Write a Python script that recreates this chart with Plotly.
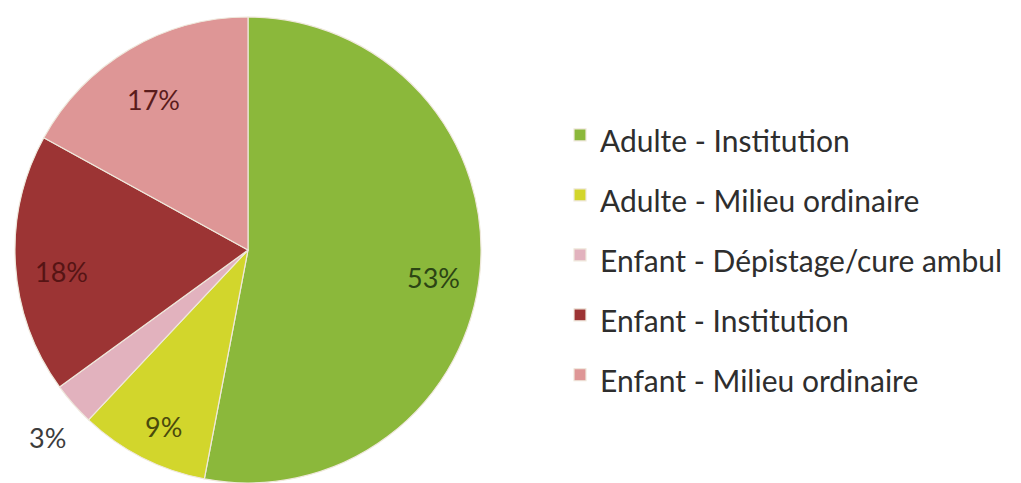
import math
import plotly.graph_objects as go

# Répartition par catégorie de prise en charge
categories = [
    "Adulte - Institution",
    "Adulte - Milieu ordinaire",
    "Enfant - Dépistage/cure ambul",
    "Enfant - Institution",
    "Enfant - Milieu ordinaire",
]
values = [53, 9, 3, 18, 17]

slice_colors = ["#8bb83b", "#d2d62c", "#e2b2be", "#9c3434", "#de9696"]
text_colors = ["#2c4414", "#4a4a0c", "#3c3c3c", "#561414", "#5a1c1c"]
label_placement = ["inside", "inside", "outside", "inside", "inside"]

W, H = 1021, 483
# pie box in pixels (left, top, diameter)
PIE_LEFT, PIE_TOP, PIE_D = 15, 17, 466
label_radius = {"inside": 0.80, "outside": 1.15}
LABEL_DROP = 10  # px, labels sit slightly below the mid-angle point

# Legend entries keep a taller row spacing than their visible text size
legend_labels = [f"<span style='font-size:30px'>{c}</span>" for c in categories]

fig = go.Figure(
    go.Pie(
        labels=legend_labels,
        values=values,
        sort=False,
        direction="clockwise",
        rotation=0,
        marker=dict(colors=slice_colors, line=dict(color="#efe8dc", width=1.2)),
        textinfo="none",
        domain=dict(
            x=[PIE_LEFT / W, (PIE_LEFT + PIE_D) / W],
            y=[1 - (PIE_TOP + PIE_D) / H, 1 - PIE_TOP / H],
        ),
        hoverinfo="label+percent",
    )
)

# Percentage labels placed along each slice's mid-angle
cx = PIE_LEFT + PIE_D / 2
cy = PIE_TOP + PIE_D / 2
R = PIE_D / 2
total = sum(values)
cum = 0
for v, tc, place in zip(values, text_colors, label_placement):
    theta = (cum + v / 2) / total * 2 * math.pi
    cum += v
    r = label_radius[place] * R
    px = cx + r * math.sin(theta)
    py = cy - r * math.cos(theta)
    fig.add_annotation(
        x=px / W,
        y=1 - py / H,
        xref="paper",
        yref="paper",
        yshift=-LABEL_DROP,
        text=f"{v / total:.0%}",
        showarrow=False,
        font=dict(family="Lato", size=27, color=tc),
        xanchor="center",
        yanchor="middle",
    )

fig.update_layout(
    width=W,
    height=H,
    margin=dict(l=0, r=0, t=0, b=0),
    paper_bgcolor="white",
    plot_bgcolor="white",
    font=dict(family="Lato", color="#2e2e2e"),
    legend=dict(
        x=560 / W,
        xanchor="left",
        y=1 - 100 / H,
        yanchor="top",
        font=dict(family="Lato", size=43.8, color="#2e2e2e"),
        bgcolor="rgba(0,0,0,0)",
    ),
)

fig.write_html("out.html")
